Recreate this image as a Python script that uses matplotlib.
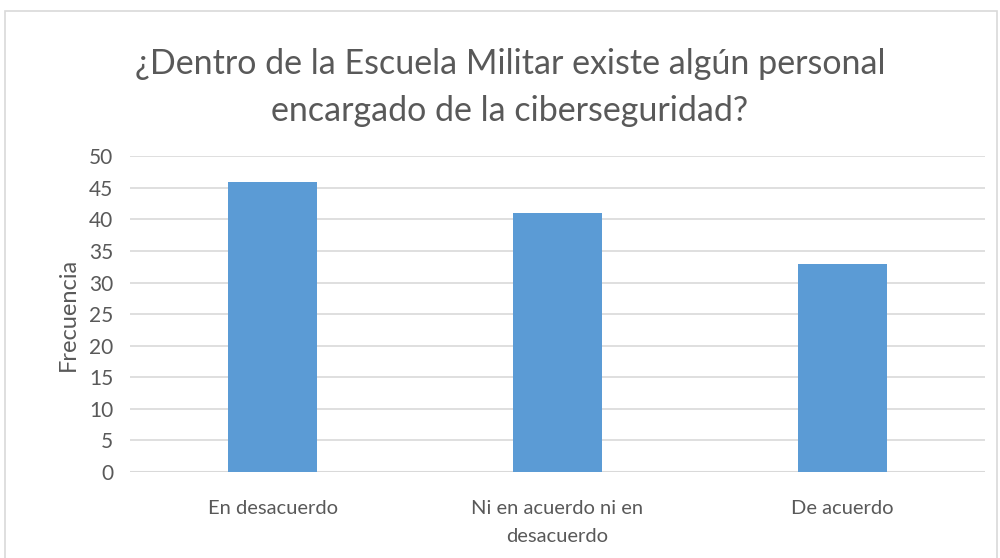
import matplotlib
matplotlib.use("Agg")
import matplotlib.pyplot as plt
from matplotlib.patches import Rectangle

categories = ["En desacuerdo", "Ni en acuerdo ni en\ndesacuerdo", "De acuerdo"]
frecuencia = [46, 41, 33]
yticks = [0, 5, 10, 15, 20, 25, 30, 35, 40, 45, 50]

plt.rcParams['font.family'] = ['Lato', 'DejaVu Sans']
text_color = "#595959"

fig = plt.figure(figsize=(10, 5.58), dpi=100)
ax = fig.add_axes([0.130, 0.154, 0.855, 0.566])

x = list(range(len(categories)))
ax.bar(x, frecuencia, width=0.31, color="#5B9BD5", zorder=3)
ax.set_xlim(-0.5, 2.5)
ax.set_ylim(0, 50)
ax.set_yticks(yticks)
ax.set_xticks(x)
ax.set_xticklabels(categories, fontsize=14.5, color=text_color, linespacing=1.8)
ax.tick_params(axis='y', labelsize=15, colors=text_color, length=0, pad=12)
ax.tick_params(axis='x', length=0, pad=20)
ax.grid(axis='y', color="#D9D9D9", linewidth=1.2, zorder=0)
for s in ax.spines.values():
    s.set_visible(False)
ax.axhline(0, color="#D9D9D9", linewidth=1.5, zorder=2)
ax.set_ylabel("Frecuencia", fontsize=17, color=text_color, labelpad=7)

fig.text(0.51, 0.843, "¿Dentro de la Escuela Militar existe algún personal\nencargado de la ciberseguridad?",
         ha='center', va='center', fontsize=24.5, color=text_color, linespacing=1.56)

# chart frame
fig.patches.append(Rectangle((0.005, -0.05), 0.992, 1.03, transform=fig.transFigure,
                             fill=False, edgecolor="#D9D9D9", linewidth=1.2))

fig.savefig("out.png", dpi=100)
